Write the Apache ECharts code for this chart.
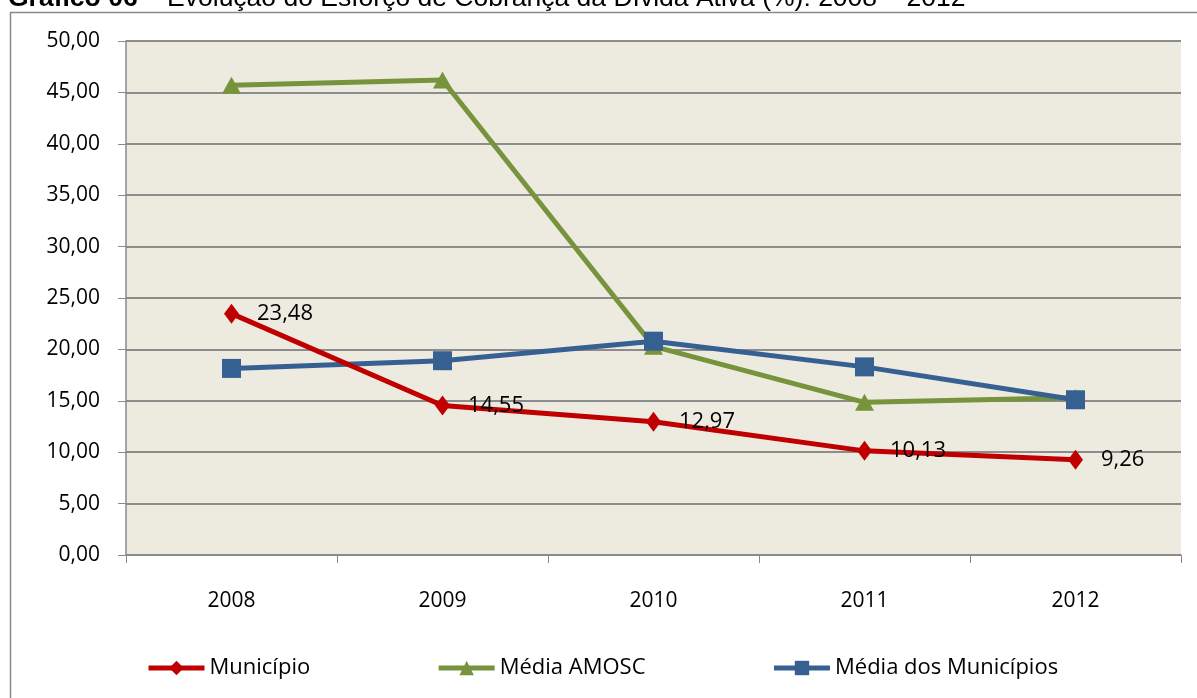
<!DOCTYPE html>
<html>
<head>
<meta charset="utf-8">
<script src="https://cdn.jsdelivr.net/npm/echarts@6/dist/echarts.min.js"></script>
<style>
  html, body { margin: 0; padding: 0; background: #fff; }
  #chart { width: 1197px; height: 698px; }
</style>
</head>
<body>
<div id="chart"></div>
<script>
const anos = ["2008", "2009", "2010", "2011", "2012"];
const municipio = [23.48, 14.55, 12.97, 10.13, 9.26];
const mediaAmosc = [45.7, 46.2, 20.3, 14.85, 15.3];
const mediaMunicipios = [18.15, 18.9, 20.8, 18.3, 15.1];

const fonte = "'Open Sans', 'Noto Sans', sans-serif";
const virgula = (v) => v.toFixed(2).replace(".", ",");

const chart = echarts.init(document.getElementById("chart"));
chart.setOption({
  animation: false,
  title: {
    text: "{b|Gráfico 06}{n| – Evolução do Esforço de Cobrança da Dívida Ativa (%): 2008 – 2012}",
    left: 3,
    top: -20,
    textStyle: {
      fontWeight: "normal",
      rich: {
        b: { fontFamily: "'Liberation Sans', Arial", fontSize: 26.5, fontWeight: "bold", color: "#000" },
        n: { fontFamily: "'Liberation Sans', Arial", fontSize: 26.5, fontWeight: "normal", color: "#000" },
      },
    },
  },
  graphic: [
    {
      type: "rect",
      shape: { x: 10.5, y: 12.5, width: 1250, height: 800 },
      style: { fill: "none", stroke: "#8a8a8a", lineWidth: 1.5 },
      silent: true,
    },
  ],
  grid: {
    left: 126,
    right: 16,
    top: 41,
    bottom: 143,
    show: true,
    backgroundColor: "#EDEAE0",
    borderWidth: 0,
  },
  legend: {
    left: 141,
    top: 652,
    itemWidth: 56,
    itemHeight: 18,
    itemGap: 126,
    lineStyle: { width: 5 },
    textStyle: { fontFamily: fonte, fontSize: 22, color: "#000" },
    data: ["Município", "Média AMOSC", "Média dos Municípios"],
  },
  xAxis: {
    type: "category",
    data: anos,
    boundaryGap: true,
    axisLine: { lineStyle: { color: "#8a8a8a", width: 1.5 } },
    axisTick: { show: true, length: 8, lineStyle: { color: "#8a8a8a" } },
    axisLabel: { margin: 36, fontFamily: fonte, fontSize: 21, color: "#000" },
  },
  yAxis: {
    type: "value",
    min: 0,
    max: 50,
    interval: 5,
    axisLine: { show: true, lineStyle: { color: "#8a8a8a", width: 1.5 } },
    axisTick: { show: true, length: 8, lineStyle: { color: "#8a8a8a" } },
    splitLine: { lineStyle: { color: "#8c8c8c", width: 2 } },
    axisLabel: {
      margin: 26,
      fontFamily: fonte,
      fontSize: 21,
      color: "#000",
      formatter: virgula,
    },
  },
  series: [
    {
      name: "Município",
      type: "line",
      data: municipio,
      z: 4,
      color: "#C00000",
      symbol: "diamond",
      symbolSize: [15, 20],
      lineStyle: { width: 5 },
      label: {
        show: true,
        position: "right",
        distance: 18,
        fontFamily: fonte,
        fontSize: 22,
        color: "#000",
        formatter: (p) => virgula(p.value),
      },
    },
    {
      name: "Média AMOSC",
      type: "line",
      data: mediaAmosc,
      z: 2,
      color: "#77933C",
      symbol: "triangle",
      symbolSize: [19, 17],
      lineStyle: { width: 5 },
    },
    {
      name: "Média dos Municípios",
      type: "line",
      data: mediaMunicipios,
      z: 3,
      color: "#376092",
      symbol: "rect",
      symbolSize: [19, 19],
      lineStyle: { width: 5 },
    },
  ],
});
</script>
</body>
</html>
